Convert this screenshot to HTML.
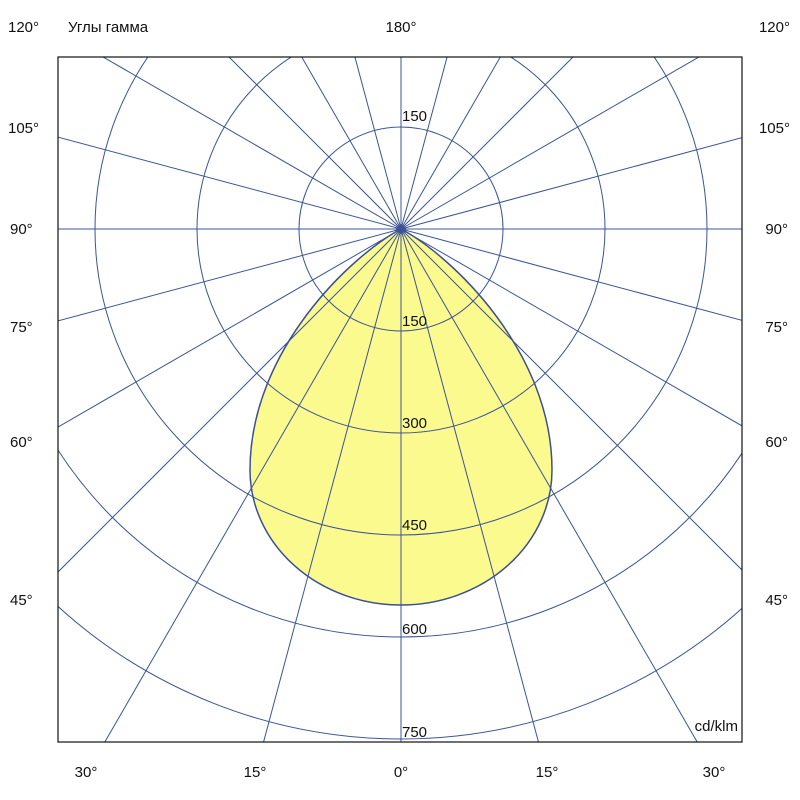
<!DOCTYPE html>
<html><head><meta charset="utf-8"><style>
html,body{margin:0;padding:0;background:#fff;overflow:hidden;width:800px;height:800px}
svg{display:block}
text{font-family:"Liberation Sans","Noto Sans CJK SC",sans-serif;font-size:15px;fill:#111}
</style></head><body>
<svg id="s" width="800" height="800" viewBox="0 0 800 800" xmlns="http://www.w3.org/2000/svg">
<defs><clipPath id="c"><rect x="58" y="57" width="684" height="685"/></clipPath></defs>
<g clip-path="url(#c)">
<path fill="#fbfa8e" stroke="#3b4f94" stroke-width="1.5" d="M401,229 C450,255 552,350 552,470 A151,135 0 0 1 250,470 C250,350 352,255 401,229 Z"/>
<g id="grid" stroke="#3b5498" stroke-width="1" fill="none"></g>
</g>
<rect x="58" y="57" width="684" height="685" fill="none" stroke="#111" stroke-width="1.2"/>
<rect x="397" y="225" width="8" height="8" fill="#3b5498" transform="rotate(45 401 229)"/>
<text x="8" y="32">120°</text><text x="68" y="32">Углы гамма</text>
<text x="401" y="32" text-anchor="middle">180°</text>
<text x="790" y="32" text-anchor="end">120°</text>
<text x="8" y="133">105°</text><text x="790" y="133" text-anchor="end">105°</text>
<text x="10" y="234">90°</text><text x="788" y="234" text-anchor="end">90°</text>
<text x="10" y="332">75°</text><text x="788" y="332" text-anchor="end">75°</text>
<text x="10" y="447">60°</text><text x="788" y="447" text-anchor="end">60°</text>
<text x="10" y="605">45°</text><text x="788" y="605" text-anchor="end">45°</text>
<text x="86" y="777" text-anchor="middle">30°</text>
<text x="255" y="777" text-anchor="middle">15°</text>
<text x="401" y="777" text-anchor="middle">0°</text>
<text x="547" y="777" text-anchor="middle">15°</text>
<text x="714" y="777" text-anchor="middle">30°</text>
<text x="402" y="121">150</text>
<text x="402" y="326">150</text>
<text x="402" y="428">300</text>
<text x="402" y="530">450</text>
<text x="402" y="634">600</text>
<text x="402" y="737">750</text>
<text x="738" y="731" text-anchor="end">cd/klm</text>
</svg>
<script>
var cx=401,cy=229,g=document.getElementById('grid'),ns='http://www.w3.org/2000/svg';
[102,204,306,408,510].forEach(function(r){var c=document.createElementNS(ns,'circle');c.setAttribute('cx',cx);c.setAttribute('cy',cy);c.setAttribute('r',r);g.appendChild(c);});
for(var a=0;a<360;a+=15){var t=a*Math.PI/180,l=document.createElementNS(ns,'line');l.setAttribute('x1',cx);l.setAttribute('y1',cy);l.setAttribute('x2',cx+900*Math.sin(t));l.setAttribute('y2',cy+900*Math.cos(t));g.appendChild(l);}
</script>
</body></html>
